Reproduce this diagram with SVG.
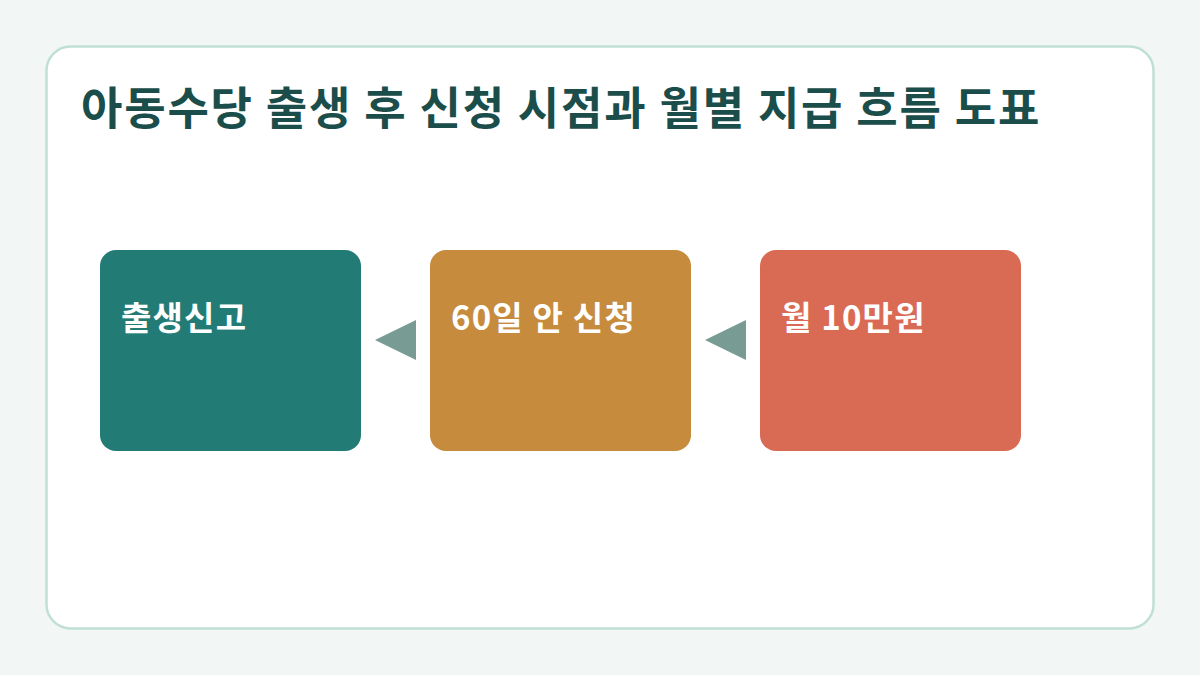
<svg xmlns="http://www.w3.org/2000/svg" width="1200" height="675" viewBox="0 0 1200 675">
<style>
.t{font-family:"Noto Sans CJK KR","Noto Sans",sans-serif;font-weight:700}
.title{font-size:45px;fill:#1B4E4A;letter-spacing:1.8px}
.lbl{font-size:33px;fill:#FFFFFF;letter-spacing:1.2px}
.arr{fill:#789C94}
</style>
<rect width="1200" height="675" fill="#F2F7F5"/>
<rect x="46.5" y="46.5" width="1107" height="582" rx="24" fill="#FFFFFF" stroke="#C0E0D5" stroke-width="2.5"/>
<text class="t title" x="81" y="125">아동수당 출생 후 신청 시점과 월별 지급 흐름 도표</text>
<g id="connectors">
<polygon class="arr" points="416,320 416,360 375,340"/>
<polygon class="arr" points="746,320 746,360 705,340"/>
</g>
<g id="node1">
<rect x="100" y="250" width="261" height="201" rx="16" fill="#237B76"/>
<text class="t lbl" x="121" y="330">출생신고</text>
</g>
<g id="node2">
<rect x="430" y="250" width="261" height="201" rx="16" fill="#C68B3D"/>
<text class="t lbl" x="451" y="330">60일 안 신청</text>
</g>
<g id="node3">
<rect x="760" y="250" width="261" height="201" rx="16" fill="#D96B55"/>
<text class="t lbl" x="781" y="330">월 10만원</text>
</g>
</svg>
